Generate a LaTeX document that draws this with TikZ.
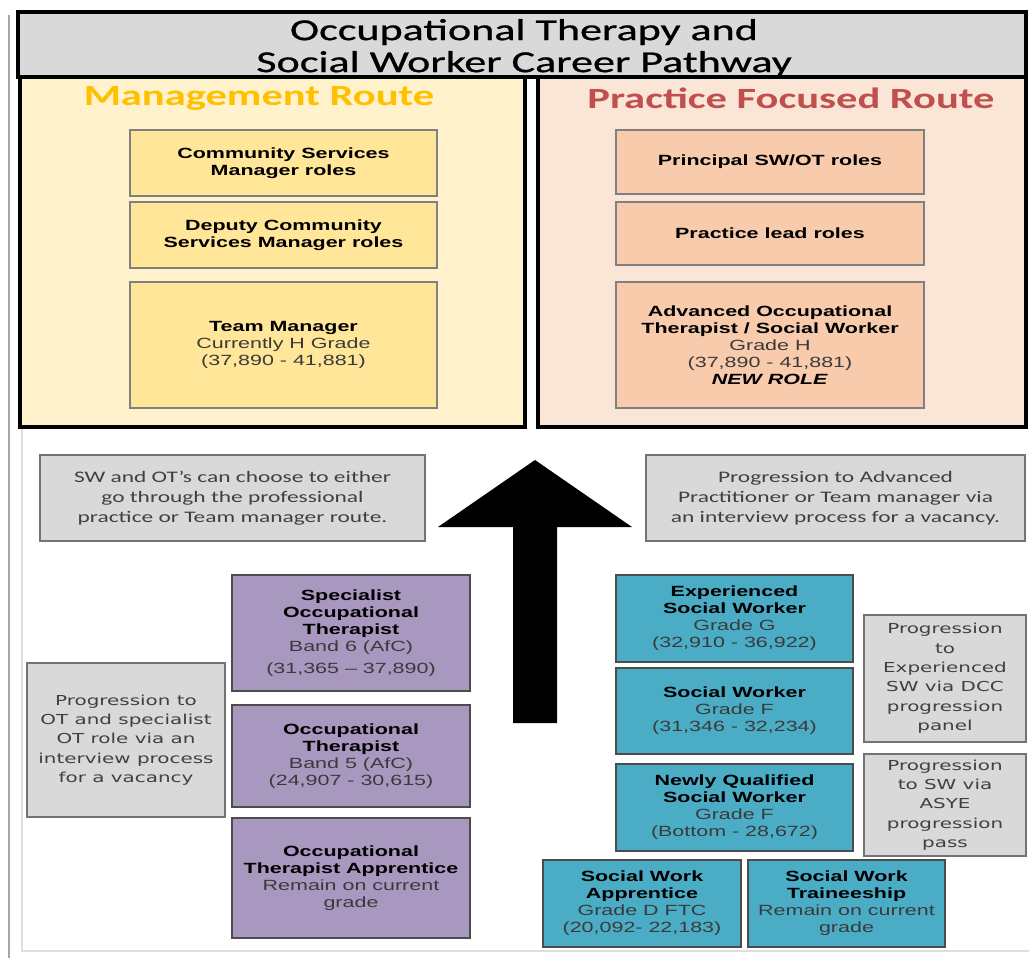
\documentclass[tikz,border=0pt]{standalone}
\usepackage{fontspec}
\setmainfont[FakeStretch=1.45]{Liberation Sans}
\newfontfamily\calib[FakeStretch=1.45]{Carlito}
\newfontfamily\calibt[FakeStretch=1.45, FakeBold=0.8]{Carlito}
\newfontfamily\verd[FakeStretch=1.45]{DejaVu Sans}

\definecolor{ttlgrey}{HTML}{D9D9D9}
\definecolor{mgmtbg}{HTML}{FFF2CC}
\definecolor{mgmtbox}{HTML}{FFE699}
\definecolor{mgmthead}{HTML}{FFC000}
\definecolor{pracbg}{HTML}{FBE5D6}
\definecolor{pracbox}{HTML}{F8CBAD}
\definecolor{prachead}{HTML}{C0504D}
\definecolor{otpurple}{HTML}{A898C0}
\definecolor{swteal}{HTML}{4BACC6}
\definecolor{notetxt}{HTML}{404040}
\definecolor{subtxt}{HTML}{3A3A3A}

\newcommand{\gradeln}[1]{\textcolor{subtxt}{#1}}

\begin{document}
\begin{tikzpicture}[x=0.75pt, y=-0.75pt,
	sz/.style 2 args={minimum width=#1*0.75pt, minimum height=#2*0.75pt},
	panel/.style={draw=black, line width=3pt, inner sep=0pt},
	role/.style={draw=black!70, line width=1.1pt, inner sep=0pt, align=center,
		font=\fontsize{11.1}{12.75}\selectfont},
	note/.style={draw=black!55, line width=1.1pt, fill=ttlgrey, inner sep=0pt,
		align=center, text=notetxt},
	heading/.style={font=\calib\bfseries\fontsize{22}{24}\selectfont}]

	\useasboundingbox (0,0) rectangle (1029,958);

	% outer frame
	\draw[gray!70, line width=1.5pt] (9,15) -- (9,958);
	\draw[gray!25, line width=1.2pt] (22,427) -- (22,951) -- (1029,951);

	% title and the two routes
	\node[panel, fill=ttlgrey, sz={1008}{65}] (T) at (522,44.5) {};
	\node[align=center, font=\calibt\fontsize{22.8}{24}\selectfont] (Tt) at (524,48)
		{Occupational Therapy and\\Social Worker Career Pathway};
	\node[panel, fill=mgmtbg, sz={505}{350}] (M) at (272.5,252) {};
	\node[panel, fill=pracbg, sz={488}{350}] (P) at (782,252) {};
	\node[heading, text=mgmthead] (Mh) at (259,98) {Management Route};
	\node[heading, text=prachead] (Ph) at (791,98) {Practice Focused Route};

	% management route
	\node[role, fill=mgmtbox, draw=black!50, sz={307}{66}] (M1) at (283.5,163)
		{\textbf{Community Services}\\\textbf{Manager roles}};
	\node[role, fill=mgmtbox, draw=black!50, sz={307}{66}] (M2) at (283.5,235)
		{\textbf{Deputy Community}\\\textbf{Services Manager roles}};
	\node[role, fill=mgmtbox, draw=black!50, sz={307}{126}] (M3) at (283.5,345)
		{\textbf{Team Manager}\\\gradeln{Currently H Grade}\\\gradeln{(37,890 - 41,881)}};

	% practice route
	\node[role, fill=pracbox, draw=black!50, sz={308}{64}] (P1) at (770,162)
		{\textbf{Principal SW/OT roles}};
	\node[role, fill=pracbox, draw=black!50, sz={308}{63}] (P2) at (770,233.5)
		{\textbf{Practice lead roles}};
	\node[role, fill=pracbox, draw=black!50, sz={308}{126}] (P3) at (770,345)
		{\textbf{Advanced Occupational}\\\textbf{Therapist / Social Worker}\\
		\gradeln{Grade H}\\\gradeln{(37,890 - 41,881)}\\\textbf{\textit{NEW ROLE}}};

	% notes either side of the arrow
	\node[note, sz={385}{86}, font=\calib\fontsize{12.1}{15}\selectfont] (N1) at (232.5,498)
		{SW and OT’s can choose to either\\go through the professional\\practice or Team manager route.};
	\node[note, sz={379}{86}, font=\calib\fontsize{12.1}{15}\selectfont] (N2) at (835.5,498)
		{Progression to Advanced\\Practitioner or Team manager via\\an interview process for a vacancy.};

	\fill (535,460) -- (632,527) -- (557,527) -- (557,723) -- (513,723)
		-- (513,527) -- (438,527) -- cycle;

	% occupational therapy
	\node[role, fill=otpurple, sz={238}{116}] (O1) at (351,633)
		{\textbf{Specialist}\\\textbf{Occupational}\\\textbf{Therapist}\\
		\gradeln{Band 6 (AfC)}\\[4pt]\gradeln{(31,365 -- 37,890)}};
	\node[role, fill=otpurple, sz={238}{102}] (O2) at (351,756)
		{\textbf{Occupational}\\\textbf{Therapist}\\\gradeln{Band 5 (AfC)}\\
		\gradeln{(24,907 - 30,615)}};
	\node[role, fill=otpurple, sz={238}{120}] (O3) at (351,878)
		{\textbf{Occupational}\\\textbf{Therapist Apprentice}\\
		\gradeln{Remain on current}\\\gradeln{grade}};
	\node[note, sz={198}{154}, font=\verd\fontsize{10.3}{14.5}\selectfont] (N3) at (126,740)
		{Progression to\\OT and specialist\\OT role via an\\interview process\\for a vacancy};

	% social work
	\node[role, fill=swteal, sz={237}{87}] (S1) at (734.5,618.5)
		{\textbf{Experienced}\\\textbf{Social Worker}\\\gradeln{Grade G}\\
		\gradeln{(32,910 - 36,922)}};
	\node[role, fill=swteal, sz={237}{86}] (S2) at (734.5,711)
		{\textbf{Social Worker}\\\gradeln{Grade F}\\\gradeln{(31,346 - 32,234)}};
	\node[role, fill=swteal, sz={237}{87}] (S3) at (734.5,807.5)
		{\textbf{Newly Qualified}\\\textbf{Social Worker}\\\gradeln{Grade F}\\
		\gradeln{(Bottom - 28,672)}};
	\node[role, fill=swteal, sz={198}{87}] (S4) at (642,903.5)
		{\textbf{Social Work}\\\textbf{Apprentice}\\\gradeln{Grade D FTC}\\
		\gradeln{(20,092- 22,183)}};
	\node[role, fill=swteal, sz={197}{87}] (S5) at (846.5,903.5)
		{\textbf{Social Work}\\\textbf{Traineeship}\\\gradeln{Remain on current}\\
		\gradeln{grade}};
	\node[note, sz={162}{127}, font=\verd\fontsize{10.3}{14.5}\selectfont] (N4) at (945,678.5)
		{Progression\\to\\Experienced\\SW via DCC\\progression\\panel};
	\node[note, sz={162}{102}, font=\verd\fontsize{10.3}{14.5}\selectfont] (N5) at (945,805)
		{Progression\\to SW via\\ASYE\\progression\\pass};
\end{tikzpicture}
\end{document}
